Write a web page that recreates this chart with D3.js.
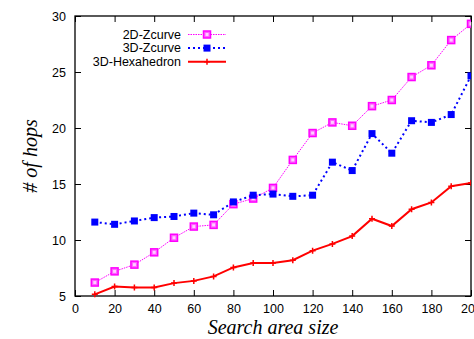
<!DOCTYPE html>
<html>
<head>
<meta charset="utf-8">
<script src="https://cdn.jsdelivr.net/npm/d3@7"></script>
<style>
  body { margin: 0; background: #fff; }
  svg { display: block; }
  .tick text { font-family: "Liberation Sans", Arial, sans-serif; font-size: 12.5px; fill: #000; }
</style>
</head>
<body>
<svg id="chart" width="474" height="339"></svg>
<script>
// search area sizes
const sizes = [10, 20, 30, 40, 50, 60, 70, 80, 90, 100, 110, 120, 130, 140, 150, 160, 170, 180, 190, 200];
const zcurve2d = [6.2, 7.2, 7.8, 8.9, 10.2, 11.2, 11.35, 13.2, 13.7, 14.65, 17.15, 19.55, 20.5, 20.2, 21.95, 22.5, 24.55, 25.6, 27.85, 29.3];
const zcurve3d = [11.6, 11.4, 11.7, 12.0, 12.1, 12.4, 12.25, 13.4, 14.0, 14.1, 13.9, 14.0, 16.95, 16.2, 19.5, 17.75, 20.65, 20.5, 21.2, 24.65];
const hexa3d = [5.15, 5.85, 5.75, 5.75, 6.15, 6.35, 6.75, 7.55, 7.95, 7.95, 8.2, 9.05, 9.65, 10.35, 11.9, 11.25, 12.75, 13.35, 14.8, 15.1];
const xTicks = [0, 20, 40, 60, 80, 100, 120, 140, 160, 180, 200];
const yTicks = [5, 10, 15, 20, 25, 30];

const margin = { top: 16, right: 3, bottom: 43, left: 75 };
const width = 474 - margin.left - margin.right;
const height = 339 - margin.top - margin.bottom;

const svg = d3.select("#chart");
const g = svg.append("g")
  .attr("transform", "translate(" + margin.left + "," + margin.top + ")");

const x = d3.scaleLinear().domain([0, 200]).range([0, width]);
const y = d3.scaleLinear().domain([5, 30]).range([height, 0]);

// axes, gnuplot style: inward ticks on all four sides
g.append("g")
  .attr("transform", "translate(0," + height + ")")
  .call(d3.axisBottom(x).tickValues(xTicks).tickSizeInner(-6).tickSizeOuter(0).tickPadding(8))
  .call(a => a.select(".domain").remove());
g.append("g")
  .call(d3.axisTop(x).tickValues(xTicks).tickSizeInner(-6).tickSizeOuter(0).tickFormat(""))
  .call(a => a.select(".domain").remove());
g.append("g")
  .call(d3.axisLeft(y).tickValues(yTicks).tickSizeInner(-6).tickSizeOuter(0).tickPadding(9))
  .call(a => a.select(".domain").remove());
g.append("g")
  .attr("transform", "translate(" + width + ",0)")
  .call(d3.axisRight(y).tickValues(yTicks).tickSizeInner(-6).tickSizeOuter(0).tickFormat(""))
  .call(a => a.select(".domain").remove());
g.selectAll(".tick line").attr("stroke", "#000").attr("stroke-width", 1);

g.append("rect")
  .attr("width", width).attr("height", height)
  .attr("fill", "none").attr("stroke", "#000").attr("stroke-width", 1.3);

// axis titles
svg.append("text")
  .attr("x", margin.left + width / 2).attr("y", 334)
  .attr("text-anchor", "middle")
  .style("font-family", "'Liberation Serif', 'Times New Roman', serif")
  .style("font-style", "italic").style("font-size", "20px")
  .text("Search area size");
svg.append("text")
  .attr("transform", "translate(37," + (margin.top + height / 2) + ") rotate(-90)")
  .attr("text-anchor", "middle")
  .style("font-family", "'Liberation Serif', 'Times New Roman', serif")
  .style("font-style", "italic").style("font-size", "20px")
  .text("# of hops");

const series = [
  { name: "2D-Zcurve", values: zcurve2d, color: "#ff00ff", width: 1, dash: "1.5,1", marker: "open" },
  { name: "3D-Zcurve", values: zcurve3d, color: "#0000ff", width: 2, dash: "2,3", marker: "filled" },
  { name: "3D-Hexahedron", values: hexa3d, color: "#ff0000", width: 2, dash: null, marker: "plus" }
];

const line = d3.line().x(d => x(d[0])).y(d => y(d[1]));

function drawMarker(sel, s, cx, cy) {
  if (s.marker === "open") {
    sel.append("rect").attr("x", cx - 3.5).attr("y", cy - 3.5).attr("width", 7).attr("height", 7)
      .attr("fill", "#ff60ff").attr("stroke", s.color).attr("stroke-width", 1.5);
    sel.append("rect").attr("x", cx - 1.5).attr("y", cy - 1.5).attr("width", 3).attr("height", 3)
      .attr("fill", "#ffd0ff");
  } else if (s.marker === "filled") {
    sel.append("rect").attr("x", cx - 3.5).attr("y", cy - 3.5).attr("width", 7).attr("height", 7)
      .attr("fill", s.color);
  } else {
    sel.append("path").attr("d", "M" + (cx - 3) + "," + cy + "h6M" + cx + "," + (cy - 3) + "v6")
      .attr("stroke", s.color).attr("stroke-width", 1.5);
  }
}

const plot = g.append("g");
plot.append("clipPath").attr("id", "clip")
  .append("rect").attr("x", -6).attr("y", -6).attr("width", width + 6).attr("height", height + 12);

series.forEach(s => {
  const pts = sizes.map((v, i) => [v, s.values[i]]);
  const layer = plot.append("g").attr("clip-path", "url(#clip)");
  layer.append("path")
    .datum(pts)
    .attr("d", line)
    .attr("fill", "none")
    .attr("stroke", s.color)
    .attr("stroke-width", s.width)
    .attr("stroke-dasharray", s.dash);
  pts.forEach(p => drawMarker(layer, s, x(p[0]), y(p[1])));
});

// legend
const legend = g.append("g");
series.forEach((s, i) => {
  const ly = 18.5 + i * 13.6;
  legend.append("text")
    .attr("x", 106).attr("y", ly).attr("dy", "0.35em")
    .attr("text-anchor", "end")
    .style("font-family", "'Liberation Sans', Arial, sans-serif").style("font-size", "12.5px")
    .text(s.name);
  legend.append("line")
    .attr("x1", 113).attr("x2", 151).attr("y1", ly).attr("y2", ly)
    .attr("stroke", s.color).attr("stroke-width", s.width).attr("stroke-dasharray", s.dash);
  drawMarker(legend, s, 132, ly);
});
</script>
</body>
</html>
